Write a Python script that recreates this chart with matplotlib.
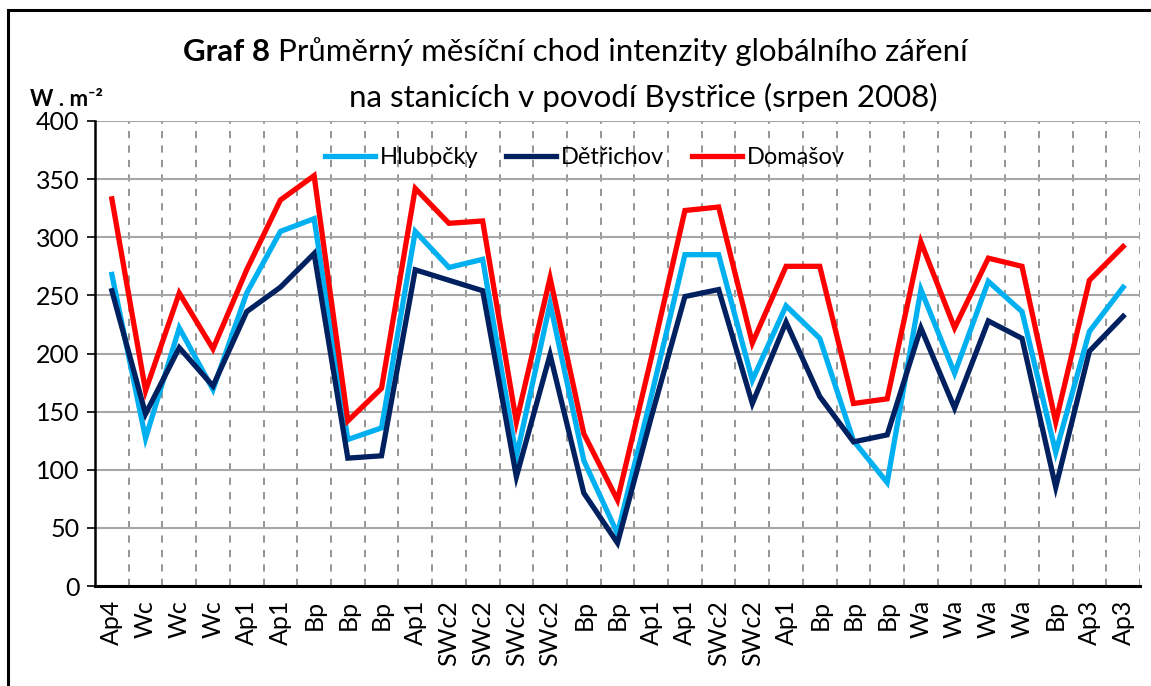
import matplotlib
matplotlib.use("Agg")
import matplotlib.pyplot as plt
from matplotlib.patches import Rectangle
import numpy as np

categories = ["Ap4", "Wc", "Wc", "Wc", "Ap1", "Ap1", "Bp", "Bp", "Bp", "Ap1",
              "SWc2", "SWc2", "SWc2", "SWc2", "Bp", "Bp", "Ap1", "Ap1", "SWc2", "SWc2",
              "Ap1", "Bp", "Bp", "Bp", "Wa", "Wa", "Wa", "Wa", "Bp", "Ap3", "Ap3"]

hlubocky = [268, 127, 222, 169, 252, 305, 316, 126, 136, 305,
            274, 281, 111, 243, 108, 45, 163, 285, 285, 177,
            241, 213, 125, 89, 255, 183, 262, 236, 115, 219, 257]
detrichov = [254, 148, 205, 172, 236, 257, 286, 110, 112, 272,
             263, 254, 94, 199, 80, 37, 145, 249, 255, 157,
             227, 163, 124, 130, 222, 153, 228, 213, 85, 202, 232]
domasov = [333, 168, 252, 204, 272, 332, 353, 142, 170, 342,
           312, 314, 141, 265, 131, 74, 196, 323, 326, 209,
           275, 275, 157, 161, 296, 222, 282, 275, 141, 263, 292]

series_names = ["Hlubočky", "Dětřichov", "Domašov"]
colors = ["#00B0F0", "#002060", "#FF0000"]

plt.rcParams['font.family'] = ['Lato', 'DejaVu Sans']

W, H = 1151, 686
fig = plt.figure(figsize=(W/100, H/100), dpi=100)
ax = fig.add_axes([95/W, 1-586/H, (1140-95)/W, (586-121)/H])

x = np.arange(len(categories))
for vals, name, c in zip([hlubocky, detrichov, domasov], series_names, colors):
    ax.plot(x, vals, color=c, lw=3.8, label=name, solid_joinstyle='miter')

ax.set_xlim(-0.5, len(categories)-0.5)
ax.set_ylim(0, 400)
ax.set_yticks(np.arange(0, 401, 50))
ax.yaxis.grid(True, color='#A6A6A6', lw=1.5, ls='-')
for b in np.arange(0.5, len(categories), 1.0):
    ax.axvline(b, color='#8C8C8C', lw=1.3, ls=(0, (4, 4)), zorder=0)
ax.set_axisbelow(True)

ax.set_xticks(x)
ax.set_xticklabels(categories, rotation=90, fontsize=18)
ax.tick_params(axis='x', length=0, pad=10)
ax.tick_params(axis='y', labelsize=18, length=6, width=1.2, direction='out', pad=5)
for s in ['top', 'right']:
    ax.spines[s].set_visible(False)
ax.spines['left'].set_linewidth(1.8)
ax.spines['bottom'].set_linewidth(2.2)

leg = ax.legend(loc='center', bbox_to_anchor=((585-95)/(1140-95), (586-158)/(586-121)), ncol=3,
                frameon=False, fontsize=17, handlelength=2.1, handletextpad=0.2, columnspacing=1.2)

fig.canvas.draw()
r = fig.canvas.get_renderer()
t1 = fig.text(183/W, 1-52/H, "Graf 8 ", ha='left', va='center', fontsize=22.5, fontweight='bold')
bb = t1.get_window_extent(renderer=r)
fig.text(bb.x1/W, 1-52/H, "Průměrný měsíční chod intenzity globálního záření",
         ha='left', va='center', fontsize=22.5)
fig.text(643/W, 1-97/H, "na stanicích v povodí Bystřice (srpen 2008)",
         ha='center', va='center', fontsize=22.5)
fig.text(30/W, 1-106/H, "W . m⁻²", ha='left', va='baseline', fontsize=16, fontweight='bold')

fig.patches.append(Rectangle((8/W, -0.1), 1.2, 1-10/H+0.1, transform=fig.transFigure,
                             fill=False, ec='black', lw=2.2))

fig.savefig("out.png", dpi=100)
